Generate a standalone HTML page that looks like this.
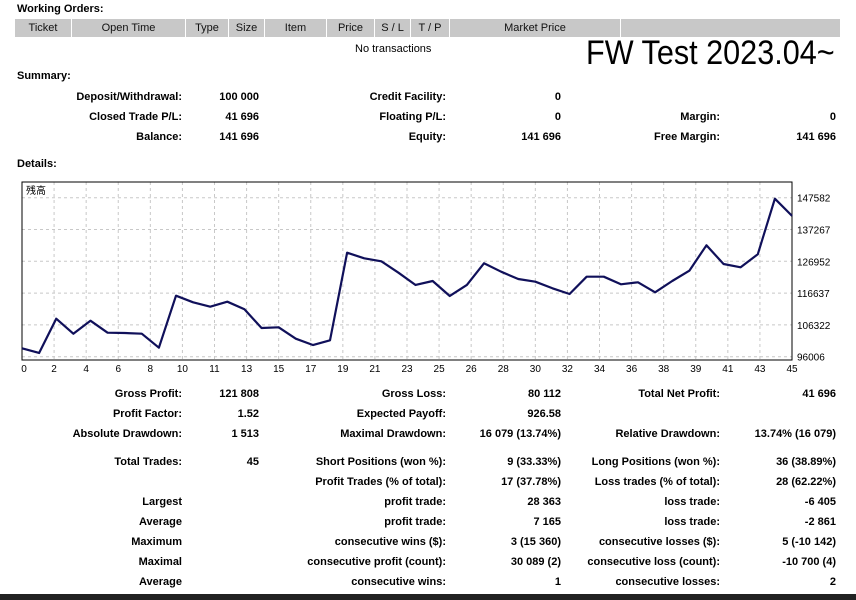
<!DOCTYPE html>
<html><head><meta charset="utf-8">
<style>
body{margin:0;width:856px;height:600px;background:#fff;position:relative;overflow:hidden;font-family:"Liberation Sans","Noto Sans CJK JP",sans-serif;font-size:11px;color:#000}
.a{position:absolute;white-space:nowrap;font-weight:bold;line-height:14px}
.r{transform:translateX(-100%)}
.h{position:absolute;top:19px;height:18px;background:#c8c8c8;font-size:11px;line-height:18px;text-align:center;color:#111}
</style></head><body>
<div class="a" style="left:17px;top:2px">Working Orders:</div>
<div class="h" style="left:15px;width:56px">Ticket</div>
<div class="h" style="left:72px;width:113px">Open Time</div>
<div class="h" style="left:186px;width:42px">Type</div>
<div class="h" style="left:229px;width:35px">Size</div>
<div class="h" style="left:265px;width:61px">Item</div>
<div class="h" style="left:327px;width:47px">Price</div>
<div class="h" style="left:375px;width:35px">S / L</div>
<div class="h" style="left:411px;width:38px">T / P</div>
<div class="h" style="left:450px;width:170px">Market Price</div>
<div class="h" style="left:621px;width:219px"></div>
<div class="a" style="left:355px;top:42px;font-weight:normal">No transactions</div>
<div class="a" style="left:586px;top:34px;font-weight:normal;font-size:34px;line-height:38px;transform:scaleX(0.9);transform-origin:left">FW Test 2023.04~</div>
<div class="a" style="left:17px;top:69px">Summary:</div>
<div class="a" style="left:17px;top:157px">Details:</div>

<svg id="chart" style="position:absolute;left:0;top:0" width="856" height="380"></svg>
<div id="stats"></div>
<div style="position:absolute;left:0;top:594px;width:856px;height:6px;background:#222"></div>

<script>
const balance=[98730,97210,108330,103470,107680,103790,103690,103470,98930,115790,113650,112230,113850,111380,105320,105540,101850,99800,101330,129740,127930,126950,123260,119270,120560,115700,119270,126310,123580,121210,120340,118200,116350,121960,121960,119490,120140,116900,120560,123900,132140,126080,125010,129230,147260,141696];
const yTicks=[96006,106322,116637,126952,137267,147582];
const xLabels=["0","2","4","6","8","10","11","13","15","17","19","21","23","25","26","28","30","32","34","36","38","39","41","43","45"];
const NS="http://www.w3.org/2000/svg";
const svg=document.getElementById('chart');
const L=22,R=792,T=182,B=360,yMin=96006,yMax=147582,YB=356.7,YT=197.7;
const xs=i=>L+(R-L)*i/(balance.length-1);
const ys=v=>YB-(v-yMin)/(yMax-yMin)*(YB-YT);
function mk(tag,attrs){const e=document.createElementNS(NS,tag);for(const k in attrs)e.setAttribute(k,attrs[k]);svg.appendChild(e);return e;}
xLabels.forEach((lab,k)=>{
  const x=L+(R-L)*k/(xLabels.length-1);
  const g=mk('line',{x1:x,x2:x,y1:T,y2:B,stroke:'#c8c8c8','stroke-dasharray':'3,3'});
  
  
  const t=mk('text',{x:x+(k==0?2:0),y:B+12,'text-anchor':'middle','font-size':'10','font-family':'Liberation Sans, sans-serif'});
  t.textContent=lab;
  
  
});
yTicks.forEach(v=>{
  const y=ys(v);
  const g=mk('line',{x1:L,x2:R,y1:y,y2:y,stroke:'#c8c8c8','stroke-dasharray':'3,3'});
  
  
  const t=mk('text',{x:R+5,y:y+4,'font-size':'10','font-family':'Liberation Sans, sans-serif'});
  t.textContent=v;
  
  
});
const box=mk('rect',{x:L,y:T,width:R-L,height:B-T,fill:'none',stroke:'#000','stroke-width':'1'});


const line=mk('polyline',{points:balance.map((v,i)=>xs(i)+','+ys(v)).join(' '),fill:'none',stroke:'#10105a','stroke-width':'2.2','stroke-linejoin':'round'});


const tt=mk('text',{x:L+4,y:T+12,'font-size':'10','font-family':'Noto Sans CJK JP, sans-serif'});
tt.textContent='残高';



const cols=[182,259,446,561,720,836];
const rows=[
 [97,["Deposit/Withdrawal:","100 000","Credit Facility:","0","",""]],
 [117,["Closed Trade P/L:","41 696","Floating P/L:","0","Margin:","0"]],
 [137,["Balance:","141 696","Equity:","141 696","Free Margin:","141 696"]],
 [394,["Gross Profit:","121 808","Gross Loss:","80 112","Total Net Profit:","41 696"]],
 [414,["Profit Factor:","1.52","Expected Payoff:","926.58","",""]],
 [434,["Absolute Drawdown:","1 513","Maximal Drawdown:","16 079 (13.74%)","Relative Drawdown:","13.74% (16 079)"]],
 [462,["Total Trades:","45","Short Positions (won %):","9 (33.33%)","Long Positions (won %):","36 (38.89%)"]],
 [482,["","","Profit Trades (% of total):","17 (37.78%)","Loss trades (% of total):","28 (62.22%)"]],
 [502,["Largest","","profit trade:","28 363","loss trade:","-6 405"]],
 [522,["Average","","profit trade:","7 165","loss trade:","-2 861"]],
 [542,["Maximum","","consecutive wins ($):","3 (15 360)","consecutive losses ($):","5 (-10 142)"]],
 [562,["Maximal","","consecutive profit (count):","30 089 (2)","consecutive loss (count):","-10 700 (4)"]],
 [582,["Average","","consecutive wins:","1","consecutive losses:","2"]]];
const st=document.getElementById('stats');
rows.forEach(([y,cells])=>{cells.forEach((c,i)=>{if(!c)return;
  const d=document.createElement('div');d.className='a r';
  d.style.left=cols[i]+'px';d.style.top=(y-7)+'px';d.textContent=c;
  
  
  st.appendChild(d);});});
</script>
</body></html>
